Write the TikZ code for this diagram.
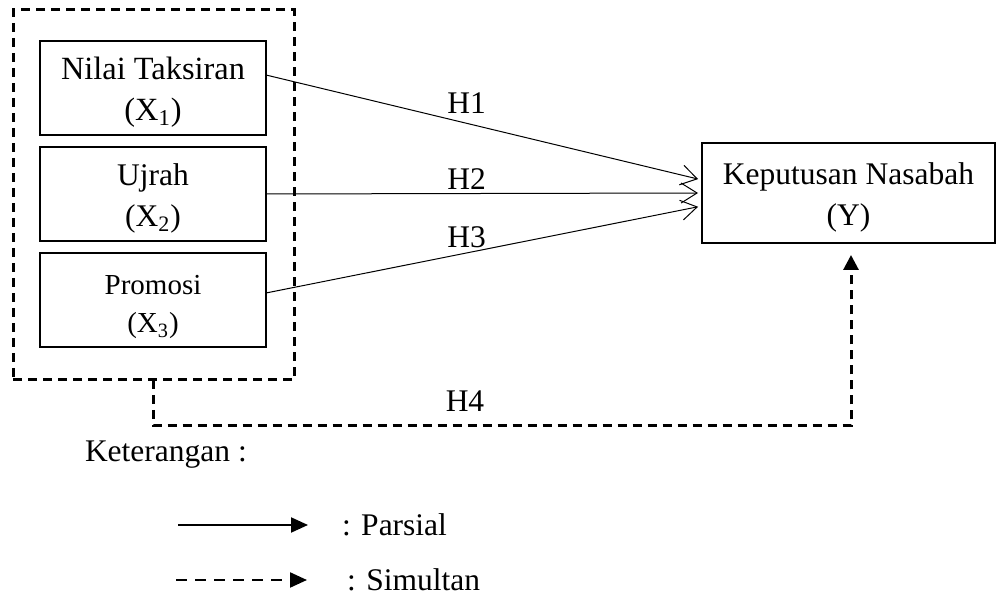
\documentclass[tikz,border=0pt]{standalone}
\usepackage{fontspec}
\setmainfont{Liberation Serif}
\usetikzlibrary{positioning,arrows.meta}

\begin{document}
\begin{tikzpicture}[
        x=0.5pt, y=-0.5pt,
        node distance = 6pt,
        every node/.style = {font=\fontsize{15.75}{20.5}\selectfont, inner sep=0pt, outer sep=0pt},
        varbox/.style = {draw, line width=0.6pt, minimum width=113pt, minimum height=47pt, align=center, text height=36pt},
        groupbox/.style = {draw, line width=1.5pt, dash pattern=on 4.5pt off 3pt, minimum width=140.5pt, minimum height=185pt},
        partial/.style = {line width=0.5pt, shorten >=2pt, -{Straight Barb[length=8pt,width=10pt]}},
        simul/.style = {line width=1.5pt, dash pattern=on 4.5pt off 3pt, -{Triangle[length=7.5pt,width=7.5pt]}},
        hlabel/.style = {anchor=base}
    ]
        \useasboundingbox (0,0) rectangle (996,597);
%
        \node (grp) [groupbox] at (153.5,195) {};
        \node (X1)  [varbox, font=\fontsize{16.2}{20.5}\selectfont] at (153,88) {Nilai Taksiran\\(X\textsubscript{1})};
        \node (X2)  [varbox, below=of X1]  {Ujrah\\(X\textsubscript{2})};
        \node (X3)  [varbox, below=of X2, font=\fontsize{14.5}{19}\selectfont] {Promosi\\(X\textsubscript{3})};
%
        \node (Y)   [varbox, minimum width=146.5pt, minimum height=50pt] at (848.5,193) {Keputusan Nasabah\\(Y)};
%
        \draw[partial] ([yshift=6.5pt]X1.east) -- node (h1) [hlabel, pos=.46, yshift=5pt] {H1} ([yshift=6.5pt]Y.west);
        \draw[partial] (X2.east) -- node (h2) [hlabel, pos=.46, yshift=2pt] {H2} (Y.west);
        \draw[partial] ([yshift=3.5pt]X3.east) -- node (h3) [hlabel, pos=.46, yshift=2.5pt] {H3} ([yshift=-6.5pt]Y.west);
        \draw[simul, shorten >=6pt] (grp.south) -- ++(0,46) -| ([xshift=1.25pt]Y.south);
        \node (h4)  [hlabel] at (465,412) {H4};
%
        \node (ket) [anchor=west] at (85,455) {Keterangan :};
        \coordinate (pa) at (178,525);
        \coordinate (pb) at (308,525);
        \coordinate (sa) at (176,580);
        \coordinate (sb) at (307,580);
        \draw[line width=1pt, -{Triangle[length=8.5pt,width=7.5pt]}] (pa) -- (pb);
        \draw[line width=1.1pt, dash pattern=on 5.5pt off 4pt, -{Triangle[length=8.5pt,width=7.5pt]}] (sa) -- (sb);
        \node (parsial)  [right=17pt of pb] {: Parsial};
        \node (simultan) [right=20pt of sb] {: Simultan};
    \end{tikzpicture}
\end{document}
